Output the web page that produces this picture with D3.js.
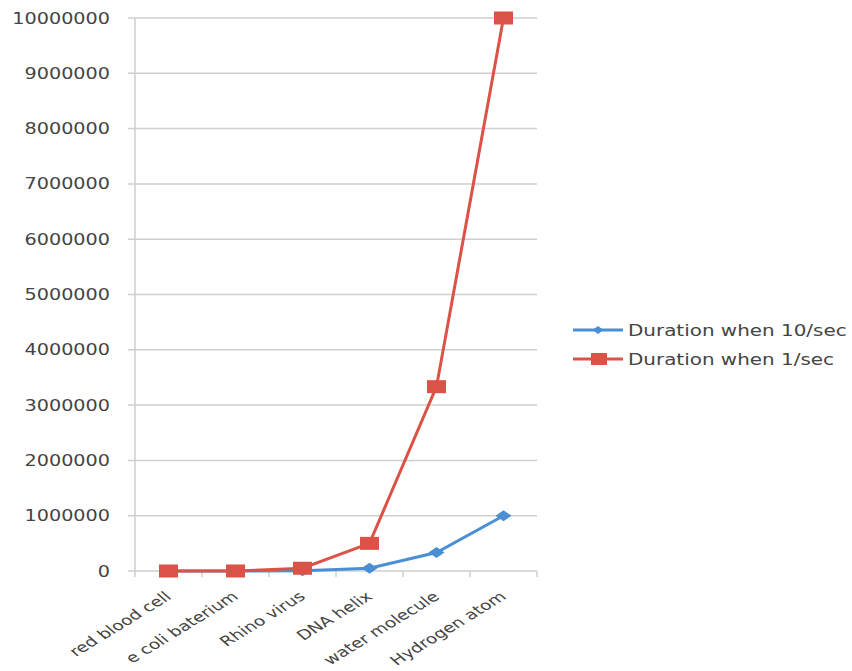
<!DOCTYPE html>
<html><head><meta charset="utf-8">
<script src="https://cdn.jsdelivr.net/npm/d3@7"></script>
<style>body{margin:0;background:#fff}</style>
</head><body>
<svg id="c" width="852" height="671"></svg>
<script>
const categories = ["red blood cell","e coli baterium","Rhino virus","DNA helix","water molecule","Hydrogen atom"];
const series10 = [5, 50, 5000, 50000, 333333, 1000000];
const series1 = [50, 500, 50000, 500000, 3333333, 10000000];
const seriesNames = ["Duration when 10/sec","Duration when 1/sec"];
const yTicks = [0,1000000,2000000,3000000,4000000,5000000,6000000,7000000,8000000,9000000,10000000];

(function(){
const svg = d3.select("#c");
const pL = 135, pR = 537, pT = 18, pB = 571;
const stretch = 1.28;
const x = d3.scaleBand().domain(categories).range([pL, pR]);
const y = d3.scaleLinear().domain([0, 10000000]).range([pB, pT]);
const grid = "#cfcfcf";
const font = "DejaVu Sans";

svg.append("g").selectAll("line").data(yTicks).join("line")
  .attr("x1", pL - 7).attr("x2", pR)
  .attr("y1", d => y(d)).attr("y2", d => y(d))
  .attr("stroke", grid).attr("stroke-width", 1.5);
svg.append("line").attr("x1", pL).attr("x2", pL).attr("y1", pT).attr("y2", pB + 1)
  .attr("stroke", grid).attr("stroke-width", 1.5);
const bounds = categories.map(c => x(c)).concat([pR]);
svg.append("g").selectAll("line").data(bounds).join("line")
  .attr("x1", d => d).attr("x2", d => d).attr("y1", pB).attr("y2", pB + 6)
  .attr("stroke", grid).attr("stroke-width", 1.5);

svg.append("g").selectAll("text").data(yTicks).join("text")
  .attr("transform", d => `translate(110,${y(d) + 5.5}) scale(${stretch},1)`)
  .attr("text-anchor", "end").attr("font-family", font).attr("font-size", 15)
  .attr("fill", "#444").text(d => d3.format("d")(d));

const cx = d => x(d) + x.bandwidth()/2;

svg.append("g").selectAll("text").data(categories).join("text")
  .attr("transform", d => `translate(${cx(d) + 4},${pB + 27}) scale(1.37,1) rotate(-40)`)
  .attr("text-anchor", "end").attr("font-family", font).attr("font-size", 13.6)
  .attr("fill", "#444").text(d => d);

const line = d3.line().x(d => cx(d[0])).y(d => y(d[1]));
const blue = "#4a8fd3", red = "#db5247";
const d10 = categories.map((c,i) => [c, series10[i]]);
const d1 = categories.map((c,i) => [c, series1[i]]);
const diamond = (w, h) => `M0,${-h}L${w},0L0,${h}L${-w},0Z`;

svg.append("path").datum(d10).attr("d", line).attr("fill","none").attr("stroke",blue).attr("stroke-width",3);
svg.append("g").selectAll("path").data(d10).join("path")
  .attr("d", diamond(8, 5.5))
  .attr("transform", d => `translate(${cx(d[0])},${y(d[1])})`).attr("fill", blue);

svg.append("path").datum(d1).attr("d", line).attr("fill","none").attr("stroke",red).attr("stroke-width",3);
svg.append("g").selectAll("rect").data(d1).join("rect")
  .attr("x", d => cx(d[0]) - 9.5).attr("y", d => y(d[1]) - 6.5)
  .attr("width", 19).attr("height", 13).attr("fill", red);

const lg = svg.append("g");
const items = [{name: seriesNames[0], color: blue, ly: 330, sym: "diamond"},
               {name: seriesNames[1], color: red, ly: 359, sym: "square"}];
items.forEach(it => {
  lg.append("line").attr("x1", 573).attr("x2", 623).attr("y1", it.ly).attr("y2", it.ly)
    .attr("stroke", it.color).attr("stroke-width", 3);
  if (it.sym === "diamond") {
    lg.append("path").attr("d", diamond(5.5, 4))
      .attr("transform", `translate(598,${it.ly})`).attr("fill", it.color);
  } else {
    lg.append("rect").attr("x", 591).attr("y", it.ly - 6).attr("width", 16).attr("height", 12).attr("fill", it.color);
  }
  lg.append("text").attr("transform", `translate(628,${it.ly + 5.5}) scale(1.33,1)`)
    .attr("font-family", font).attr("font-size", 15).attr("fill", "#444").text(it.name);
});
})();
</script>
</body></html>
